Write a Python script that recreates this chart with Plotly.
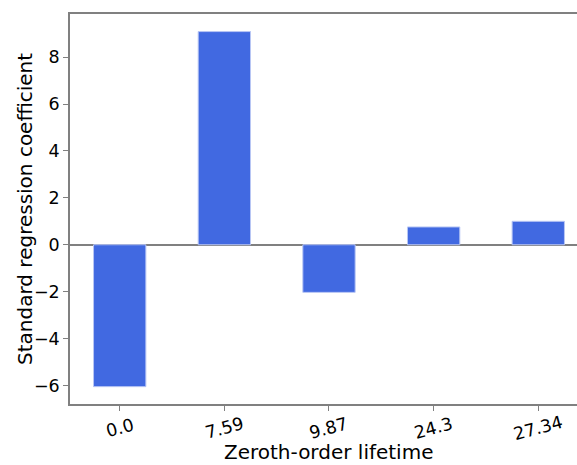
import plotly.graph_objects as go

# Standard regression coefficients per zeroth-order lifetime
lifetimes = ["0.0", "7.59", "9.87", "24.3", "27.34"]
coefficients = [-6.05, 9.09, -2.03, 0.76, 1.0]
y_ticks = [-6, -4, -2, 0, 2, 4, 6, 8]

SPINE = "#808080"
FONT = "DejaVu Sans, Liberation Sans, sans-serif"

fig = go.Figure(
    go.Bar(
        x=list(range(len(lifetimes))),
        y=coefficients,
        width=0.5,
        marker=dict(color="#4169E1", line=dict(color="#b8c6f4", width=1)),
    )
)

fig.update_layout(
    width=577,
    height=465,
    margin=dict(l=70, r=0, t=14, b=61),
    paper_bgcolor="white",
    plot_bgcolor="white",
    showlegend=False,
    font=dict(family=FONT, color="black", size=17.5),
)

fig.update_xaxes(
    range=[-0.475, 4.37],
    tickvals=list(range(len(lifetimes))),
    showticklabels=False,
    showgrid=False,
    zeroline=False,
    showline=True,
    linecolor=SPINE,
    linewidth=1.5,
    mirror=True,
    ticks="outside",
    ticklen=5,
    tickwidth=1,
    tickcolor=SPINE,
)

fig.update_yaxes(
    range=[-6.79, 9.84],
    tickvals=y_ticks,
    ticktext=[str(v).replace("-", "\u2212") for v in y_ticks],
    showgrid=False,
    zeroline=True,
    zerolinecolor=SPINE,
    zerolinewidth=1.5,
    showline=True,
    linecolor=SPINE,
    linewidth=1.5,
    ticks="outside",
    ticklen=5,
    tickwidth=1,
    tickcolor=SPINE,
    tickfont=dict(size=17.5),
)

# rotated category labels, centred under each tick
for i, lab in enumerate(lifetimes):
    fig.add_annotation(
        x=i, y=0, xref="x", yref="paper",
        text=lab, showarrow=False, textangle=-15,
        xanchor="center", yanchor="middle", yshift=-24,
        font=dict(size=17.5),
    )

# axis titles
fig.add_annotation(
    x=2, y=0, xref="x", yref="paper",
    text="Zeroth-order lifetime", showarrow=False,
    xanchor="center", yanchor="middle", yshift=-48, borderpad=0,
    font=dict(size=20),
)
fig.add_annotation(
    x=0, y=0.5, xref="paper", yref="paper",
    text="Standard regression coefficient", showarrow=False,
    textangle=-90, xanchor="center", yanchor="middle", xshift=-45,
    font=dict(size=20),
)

fig.write_html("out.html")
